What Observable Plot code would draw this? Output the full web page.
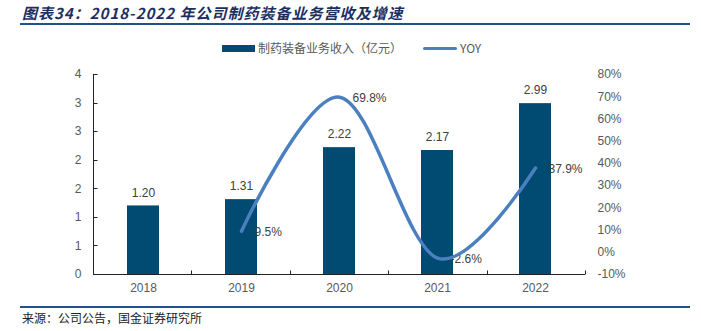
<!DOCTYPE html>
<html>
<head>
<meta charset="utf-8">
<script src="https://cdn.jsdelivr.net/npm/d3@7"></script>
<script src="https://cdn.jsdelivr.net/npm/@observablehq/plot@0.6"></script>
<style>
  html, body { margin: 0; padding: 0; background: #fff; }
  #wrap { position: relative; width: 701px; height: 331px; overflow: hidden; background: #fff; }
  #wrap svg { position: absolute; left: 0; top: 0; }
  .abs { position: absolute; white-space: nowrap; }
  #title { left: 22px; top: 3px; font-family: "Noto Sans CJK SC", sans-serif; font-weight: bold; font-style: italic;
           font-size: 15px; line-height: 20px; color: #1c2f5e; letter-spacing: 1px; }
  .hline { position: absolute; left: 20px; width: 670px; height: 2px; background: #24508a; }
  .leg { font-family: "Noto Sans CJK SC", sans-serif; font-size: 12px; line-height: 16px; color: #595959; top: 40px; }
  #footer { left: 22px; top: 310px; font-family: "Noto Sans CJK SC", sans-serif; font-size: 12px; line-height: 16px; color: #222; }
</style>
</head>
<body>
<div id="wrap">
  <div id="title" class="abs">图表34：2018-2022 年公司制药装备业务营收及增速</div>
  <div class="hline" style="top:23px"></div>
  <div class="abs" id="sw1" style="left:222px; top:45px; width:33px; height:7px;"></div>
  <div class="abs leg" id="lg1" style="left:258px;"></div>
  <div class="abs" id="sw2" style="left:423px; top:46.5px; width:34px; height:3.5px; border-radius:2px;"></div>
  <div class="abs leg" id="lg2" style="left:460px;"></div>
  <div id="chart"></div>
  <div class="hline" style="top:306px"></div>
  <div id="footer" class="abs">来源：公司公告，国金证券研究所</div>
</div>
<script>
// ---- data ----
const years = ["2018", "2019", "2020", "2021", "2022"];
const revenue = [1.20, 1.31, 2.22, 2.17, 2.99];
const yoyYears = ["2019", "2020", "2021", "2022"];
const yoy = [9.5, 69.8, -2.6, 37.9];
const leftTicks = [0, 0.5, 1, 1.5, 2, 2.5, 3, 3.5];
const leftTickLabels = ["0", "1", "1", "2", "2", "3", "3", "4"];
const rightTicks = [-10, 0, 10, 20, 30, 40, 50, 60, 70, 80];
const rightTickLabels = ["-10%", "0%", "10%", "20%", "30%", "40%", "50%", "60%", "70%", "80%"];
const seriesNames = ["制药装备业务收入（亿元）", "YOY"];

const barColor = "#014a71";
const lineColor = "#4a80c0";

document.getElementById("sw1").style.background = barColor;
document.getElementById("sw2").style.background = lineColor;
document.getElementById("lg1").textContent = seriesNames[0];
document.getElementById("lg2").textContent = seriesNames[1];

const leftMax = leftTicks[leftTicks.length - 1];
const pMin = rightTicks[0], pMax = rightTicks[rightTicks.length - 1];
const toY = p => (p - pMin) / (pMax - pMin) * leftMax;
const fromY = v => v / leftMax * (pMax - pMin) + pMin;

const barData = years.map((y, i) => ({year: y, value: revenue[i]}));
const lineData = yoyYears.map((y, i) => ({year: y, pct: yoy[i]}));

// axis lines + inward ticks drawn from frame dimensions
function axesFrame(index, scales, values, dims) {
  const {width, height, marginTop, marginRight, marginBottom, marginLeft} = dims;
  const g = d3.create("svg:g").attr("stroke", "#222").attr("stroke-width", 1).attr("fill", "none");
  const x0 = marginLeft + 0.5, x1 = width - marginRight, yb = height - marginBottom + 0.5;
  g.append("line").attr("x1", x0).attr("x2", x0).attr("y1", marginTop).attr("y2", yb);
  g.append("line").attr("x1", x0).attr("x2", x1).attr("y1", yb).attr("y2", yb);
  const ys = scales.y;
  leftTicks.forEach(t => {
    const yy = Math.round(ys(t)) + 0.5;
    g.append("line").attr("x1", x0).attr("x2", x0 + 4).attr("y1", yy).attr("y2", yy);
  });
  const step = (x1 - marginLeft) / years.length;
  for (let i = 0; i <= years.length; i++) {
    const xx = Math.round(marginLeft + i * step) + 0.5;
    g.append("line").attr("x1", xx).attr("x2", xx).attr("y1", yb - 4).attr("y2", yb);
  }
  return g.node();
}

const chart = Plot.plot({
  width: 701,
  height: 300,
  marginLeft: 93,
  marginRight: 116,
  marginTop: 74,
  marginBottom: 26,
  style: {fontFamily: "'Liberation Sans', Arial, sans-serif", fontSize: "12px", color: "#595959", background: "transparent", overflow: "visible"},
  x: {domain: years, paddingInner: 0.675, paddingOuter: 0.3375, axis: null, label: null},
  y: {domain: [0, leftMax], axis: null, label: null},
  marks: [
    Plot.barY(barData, {x: "year", y: "value", fill: barColor}),
    Plot.text(barData, {x: "year", y: "value", text: d => d.value.toFixed(2), dy: -13, fill: "#404040", fontSize: 12}),
    Plot.text(lineData, {x: "year", y: d => toY(d.pct), text: d => d.pct.toFixed(1) + "%", textAnchor: "start", dx: 13, dy: 1, fill: "#404040", fontSize: 12}),
    Plot.line(lineData, {x: "year", y: d => toY(d.pct), curve: "cardinal", stroke: lineColor, strokeWidth: 3.5, strokeLinecap: "round"}),
    axesFrame,
    Plot.axisY(leftTicks, {anchor: "left", label: null, tickSize: 0, tickPadding: 12, fill: "#595959",
      tickFormat: d => leftTickLabels[leftTicks.indexOf(d)]}),
    Plot.axisY(rightTicks.map(toY), {anchor: "right", label: null, tickSize: 0, tickPadding: 12, fill: "#595959",
      tickFormat: d => rightTickLabels[rightTicks.indexOf(Math.round(fromY(d)))]}),
    Plot.axisX(years, {anchor: "bottom", label: null, tickSize: 0, tickPadding: 9, fill: "#595959"})
  ]
});
document.getElementById("chart").appendChild(chart);
</script>
</body>
</html>
